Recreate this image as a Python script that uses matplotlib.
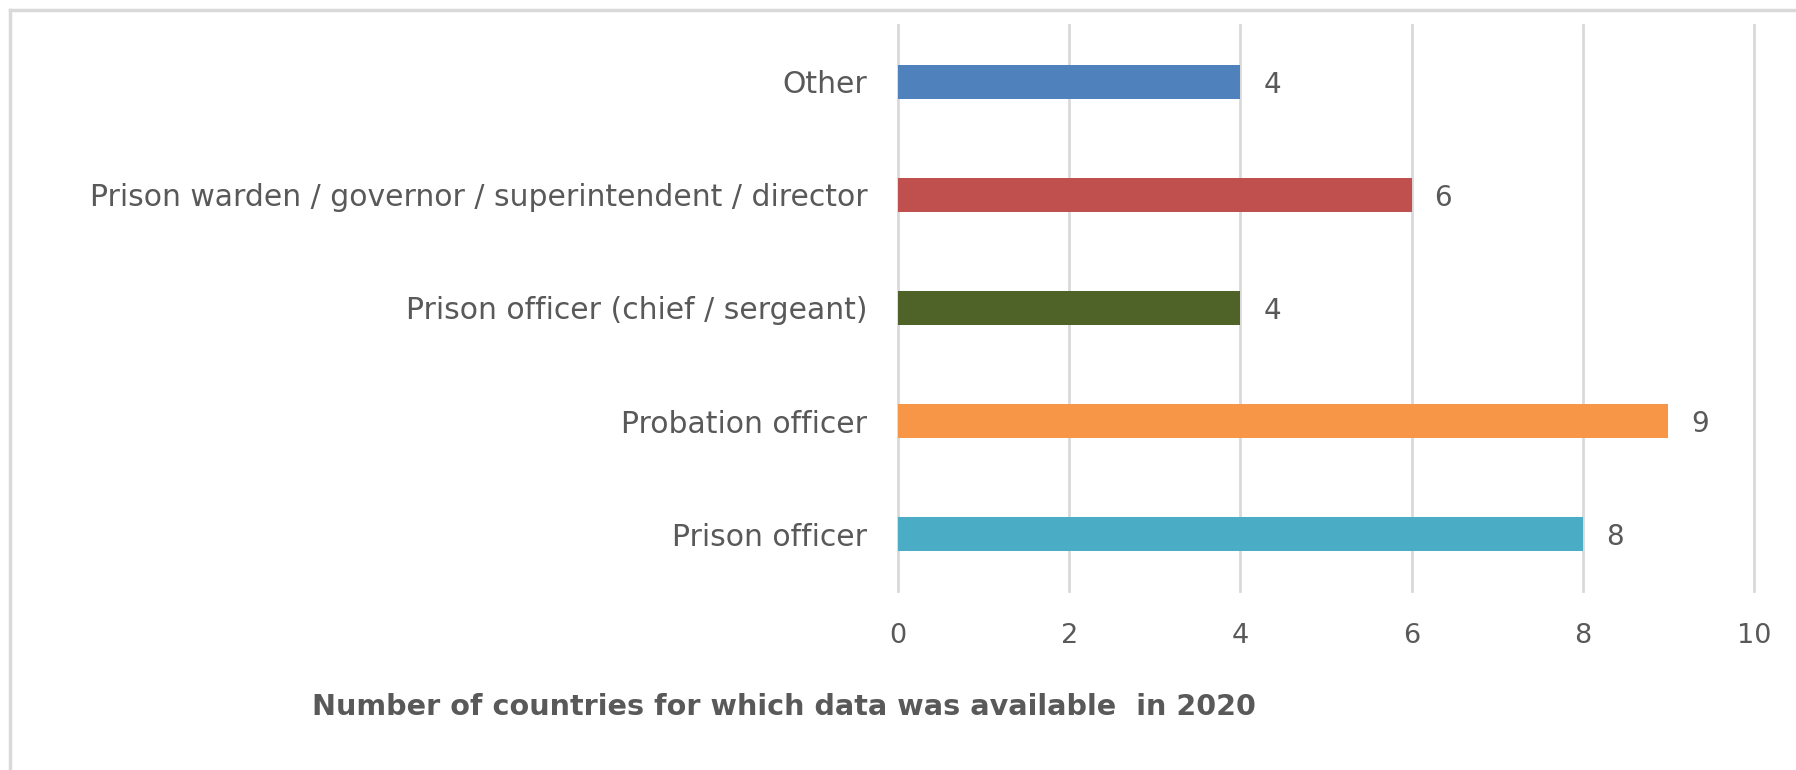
import matplotlib
matplotlib.use("Agg")
import matplotlib.pyplot as plt
from matplotlib.lines import Line2D

categories = ["Other",
              "Prison warden / governor / superintendent / director",
              "Prison officer (chief / sergeant)",
              "Probation officer",
              "Prison officer"]
values = [4, 6, 4, 9, 8]
colors = ["#4F81BD", "#C0504D", "#4F6228", "#F79646", "#4BACC6"]
xticks = [0, 2, 4, 6, 8, 10]
xlabel = "Number of countries for which data was available  in 2020"

plt.rcParams['font.family'] = ['DejaVu Sans']
txt = "#595959"

fig = plt.figure(figsize=(17.96, 7.7), dpi=100)
ax = fig.add_axes([898/1796, 1-591/770, (1754-898)/1796, (591-25)/770])

ypos = list(range(len(categories)))
ax.barh(ypos, values, height=0.30, color=colors, zorder=3)
ax.set_ylim(len(categories)-0.5, -0.5)
ax.set_xlim(0, 10)
ax.set_yticks(ypos)
ax.set_yticklabels(categories, fontsize=21.5, color=txt)
ax.set_xticks(xticks)
ax.set_xticklabels([str(t) for t in xticks], fontsize=19.5, color=txt)
ax.tick_params(axis='both', length=0)
ax.tick_params(axis='y', pad=22)
ax.tick_params(axis='x', pad=23)
for s in ax.spines.values():
    s.set_visible(False)
ax.grid(axis='x', color="#D9D9D9", linewidth=2, zorder=0)
for gl in ax.get_xgridlines():
    gl.set_clip_on(False)

for y, v in zip(ypos, values):
    ax.annotate(str(v), (v, y), xytext=(23, -3), textcoords='offset pixels',
                ha='left', va='center', fontsize=20, color=txt)

fig.text(312/1796, 1-707/770, xlabel, fontsize=20.6, fontweight='bold',
         color=txt, ha='left', va='center')

# chart frame (top and left edges visible)
fig.add_artist(Line2D([10/1796, 1.0], [1-10/770, 1-10/770], color="#D9D9D9", linewidth=2.5))
fig.add_artist(Line2D([10/1796, 10/1796], [1-10/770, 0.0], color="#D9D9D9", linewidth=2.5))

fig.savefig("out.png", dpi=100)
